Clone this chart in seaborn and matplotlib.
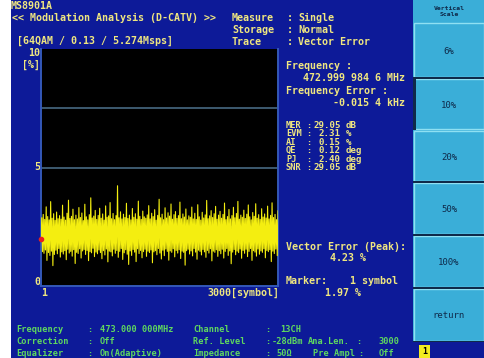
import numpy as np
import matplotlib
matplotlib.use("Agg")
import matplotlib.pyplot as plt
from matplotlib.patches import Rectangle
import seaborn as sns

# ---- data -------------------------------------------------------------
vector_error = [
    1.97, 2.88, 1.45, 3.02, 1.38, 2.81, 1.52, 3.34, 1.08, 2.93, 1.41, 2.79, 1.29, 3.56, 1.47, 2.86, 0.86, 3.05, 1.33, 2.77,
    1.51, 3.12, 1.36, 2.84, 1.58, 2.97, 1.22, 2.82, 1.44, 3.41, 1.35, 2.91, 1.49, 2.78, 1.11, 3.07, 1.55, 3.62, 1.39, 2.85,
    1.46, 2.94, 1.26, 3.24, 1.53, 2.80, 0.95, 2.99, 1.42, 2.83, 1.37, 3.31, 1.57, 2.89, 1.18, 3.08, 1.48, 2.76, 1.54, 3.45,
    1.33, 2.92, 1.50, 2.79, 1.07, 3.01, 1.45, 3.72, 1.40, 2.87, 1.59, 2.95, 1.24, 3.19, 1.43, 2.81, 1.36, 2.98, 1.52, 3.28,
    1.41, 2.86, 1.15, 3.04, 1.49, 2.78, 1.31, 3.38, 1.56, 2.90, 1.02, 2.96, 1.47, 3.52, 1.44, 2.84, 1.27, 3.06, 1.55, 2.80,
    1.38, 2.97, 1.50, 4.23, 1.21, 2.88, 1.46, 3.13, 1.58, 2.83, 1.12, 3.03, 1.40, 2.89, 1.53, 3.49, 1.34, 2.85, 0.91, 2.99,
    1.48, 2.79, 1.29, 3.27, 1.54, 2.90, 1.43, 3.05, 1.03, 2.82, 1.57, 3.58, 1.37, 2.94, 1.50, 2.81, 1.19, 3.16, 1.45, 2.92,
    1.55, 2.86, 1.25, 3.00, 1.47, 3.39, 1.41, 2.83, 1.52, 3.07, 0.98, 2.93, 1.44, 3.22, 1.49, 2.78, 1.32, 2.98, 1.58, 3.66,
    1.39, 2.88, 1.14, 3.03, 1.51, 2.80, 1.28, 3.30, 1.56, 2.87, 1.46, 3.09, 1.09, 2.95, 1.48, 3.46, 1.42, 2.82, 1.57, 3.01,
    1.23, 3.14, 1.50, 2.85, 1.39, 2.97, 1.53, 3.54, 1.16, 2.84, 1.47, 3.04, 1.42, 2.91, 0.88, 3.25, 1.49, 2.79, 1.55, 2.96,
    1.35, 2.90, 1.48, 3.33, 1.27, 2.83, 1.58, 3.07, 1.43, 2.81, 1.13, 3.43, 1.51, 2.92, 1.46, 2.78, 1.31, 3.11, 1.54, 2.87,
    1.44, 3.00, 1.21, 3.61, 1.50, 2.84, 1.39, 2.96, 1.57, 3.18, 1.06, 2.89, 1.47, 3.05, 1.42, 3.36, 1.53, 2.82, 1.25, 2.99,
    1.49, 3.15, 1.36, 2.86, 1.55, 3.02, 1.18, 3.50, 1.46, 2.80, 1.58, 2.93, 1.29, 3.23, 1.48, 2.83, 0.94, 2.97, 1.43, 3.32,
    1.54, 2.88, 1.32, 3.06, 1.47, 3.57, 1.41, 2.82, 1.56, 2.99, 1.17, 2.90, 1.50, 3.20, 1.38, 2.85, 1.55, 3.03, 1.24, 3.42,
    1.46, 2.92, 1.58, 2.79, 1.08, 3.10, 1.49, 2.94, 1.43, 3.47, 1.26, 2.86, 1.56, 3.01, 1.34, 2.81, 1.48, 3.26, 1.42, 2.91,
    1.57, 3.04, 1.19, 2.87, 1.50, 3.37, 1.45, 2.83, 1.53, 2.98, 1.03, 3.51, 1.47, 2.89, 1.37, 3.02, 1.56, 2.80, 1.28, 3.17,
]
first_symbol, last_symbol = 1, 3000
y_min, y_max = 0, 10
grid_levels = [2.5, 5, 7.5]
marker_symbol, marker_value = 1, 1.97

results_labels = ["MER", "EVM", "AI", "QE", "PJ", "SNR"]
results_values = ["29.05", "2.31", "0.15", "0.12", "2.40", "29.05"]
results_units = ["dB", "%", "%", "deg", "deg", "dB"]

scale_buttons = ["6%", "10%", "20%", "50%", "100%", "return"]

# ---- colours ----------------------------------------------------------
NAVY = "#0d1a98"
PANEL = "#3aaed8"
PANEL_EDGE = "#8fe0f2"
DARK = "#0f2a4a"
YELLOW_TXT = "#efe680"
GREEN_TXT = "#5fd85f"
TRACE = "#f4ee10"
MONO = "DejaVu Sans Mono"

fig = plt.figure(figsize=(4.85, 3.58), dpi=100)
fig.patch.set_facecolor("white")

# background layer in pixel coordinates
bg = fig.add_axes([0, 0, 1, 1], zorder=0)
bg.set_xlim(0, 485)
bg.set_ylim(358, 0)
bg.axis("off")
bg.add_patch(Rectangle((11, 0), 402, 358, color=NAVY, lw=0))


def put(x, y, s, color=YELLOW_TXT, ha="left", size=7.2):
    bg.text(x, y, s, color=color, ha=ha, va="center", fontsize=size,
            family=MONO, weight="bold")


# header
put(11, 6, "MS8901A")
put(12, 18, "<< Modulation Analysis (D-CATV) >>")
put(17, 41, "[64QAM / 0.13 / 5.274Msps]")
for yy, name, val in [(18, "Measure", "Single"), (30, "Storage", "Normal"),
                      (42, "Trace", "Vector Error")]:
    put(232, yy, name)
    put(287, yy, ":")
    put(298, yy, val)

# y labels
put(40, 53, "10", ha="right")
put(40, 65, "[%]", ha="right")
put(40, 167, "5", ha="right")
put(40, 282, "0", ha="right")
put(41, 293, "1")
put(279, 293, "3000[symbol]", ha="right")

# measurement results
put(286, 66, "Frequency :")
put(405, 78, "472.999 984 6 MHz", ha="right")
put(286, 91, "Frequency Error :")
put(405, 103, "-0.015 4 kHz", ha="right")
for i, (lab, val, unit) in enumerate(zip(results_labels, results_values, results_units)):
    yy = 125 + i * 8.6
    put(286, yy, lab, size=6.2)
    put(306, yy, ":", size=6.2)
    put(341, yy, val, ha="right", size=6.6)
    put(346, yy, unit, size=6.6)

put(286, 247, "Vector Error (Peak):")
put(330, 258, "4.23 %")
put(286, 281, "Marker:")
put(398, 281, "1 symbol", ha="right")
put(325, 293, "1.97 %")

# footer status lines
footer = [
    (330, [(16, "Frequency"), (87, ":"), (100, "473.000 000MHz"), (193, "Channel"), (265, ":"), (280, "13CH")]),
    (342, [(16, "Correction"), (87, ":"), (100, "Off"), (193, "Ref. Level"), (265, ":"), (272, "-28dBm"),
           (308, "Ana.Len."), (356, ":"), (379, "3000")]),
    (353, [(16, "Equalizer"), (87, ":"), (100, "On(Adaptive)"), (193, "Impedance"), (265, ":"), (276, "50Ω"),
           (313, "Pre Ampl"), (358, ":"), (379, "Off")]),
]
for yy, items in footer:
    for xx, s in items:
        put(xx, yy, s, color=GREEN_TXT, size=6.2)

# soft-key panel
bg.add_patch(Rectangle((413, 0), 72, 358, color=PANEL, lw=0))
bg.text(449, 8, "Vertical", color=DARK, ha="center", va="center", fontsize=4.6, family=MONO, weight="bold")
bg.text(449, 15, "Scale", color=DARK, ha="center", va="center", fontsize=4.6, family=MONO, weight="bold")
edges = [22, 78, 130, 182, 235, 288, 342]
for i, lab in enumerate(scale_buttons):
    top, bot = edges[i], edges[i + 1]
    bg.add_patch(Rectangle((414, top + 1), 70, bot - top - 2, facecolor=PANEL,
                           edgecolor=PANEL_EDGE, lw=1.0))
    bg.text(449, (top + bot) / 2 + 1, lab, color=DARK, ha="center", va="center",
            fontsize=6.5, family=MONO)
for e in [78, 182, 235, 288, 342]:
    bg.add_patch(Rectangle((413, e - 1.2), 72, 2.4, color=DARK, lw=0))
bg.add_patch(Rectangle((413, 78), 3, 52, color=DARK, lw=0))
bg.add_patch(Rectangle((413, 342), 72, 16, color=NAVY, lw=0))
bg.add_patch(Rectangle((419, 345), 11, 13, color="#f2ec20", lw=0))
bg.text(424.5, 352, "1", color="black", ha="center", va="center", fontsize=6, family=MONO, weight="bold")

# ---- trace plot -------------------------------------------------------
ax = fig.add_axes([41 / 485, 1 - 286 / 358, 237 / 485, 237 / 358], zorder=2)
ax.set_facecolor("black")
symbols = np.linspace(first_symbol, last_symbol, len(vector_error))
for g in grid_levels:
    ax.axhline(g, color="#3d5a70", lw=1.4, zorder=1)
sns.lineplot(x=symbols, y=vector_error, ax=ax, color=TRACE, lw=0.8, zorder=3)
ax.plot([marker_symbol], [marker_value], "o", color="#e82020", ms=3, zorder=4, clip_on=False)
ax.set_xlim(first_symbol, last_symbol)
ax.set_ylim(y_min, y_max)
ax.set_xticks([])
ax.set_yticks([])
ax.set_xlabel("")
ax.set_ylabel("")
ax.spines["top"].set_visible(False)
for side in ["left", "bottom", "right"]:
    ax.spines[side].set_color("#3458b8")
    ax.spines[side].set_linewidth(1.4)

fig.savefig("out.png", dpi=100, facecolor=fig.get_facecolor())
